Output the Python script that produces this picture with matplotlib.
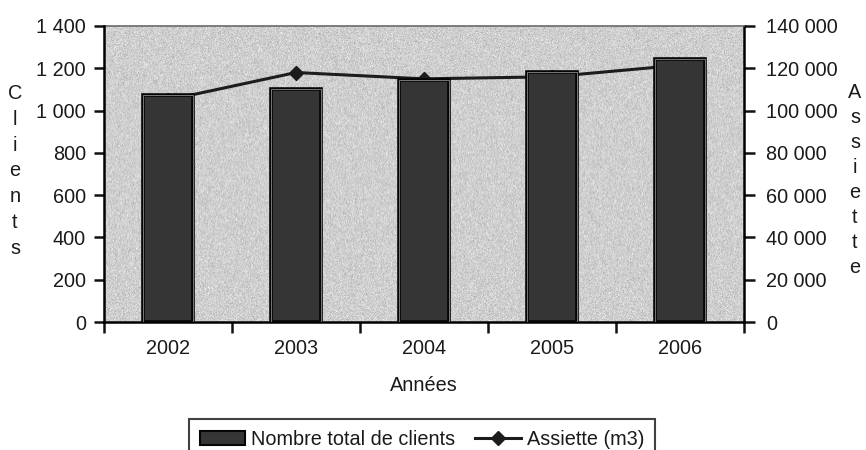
import matplotlib
matplotlib.use("Agg")
import matplotlib.pyplot as plt
import matplotlib.ticker as mticker
from matplotlib.patches import Patch
from matplotlib.lines import Line2D
import numpy as np

plt.rcParams['font.family'] = ['Liberation Sans', 'DejaVu Sans']

years = ['2002', '2003', '2004', '2005', '2006']
clients = [1074, 1102, 1145, 1184, 1242]
assiette = [105000, 118000, 115000, 116000, 121500]

left_ticks = [0, 200, 400, 600, 800, 1000, 1200, 1400]
right_ticks = [0, 20000, 40000, 60000, 80000, 100000, 120000, 140000]

TXT = '#1a1a1a'
FS = 14.3
BAR = '#353535'


def spaced(v, pos=None):
    return f"{int(v):,}".replace(",", " ")


fig = plt.figure(figsize=(8.66, 4.5), dpi=100)
fig.patch.set_facecolor('white')
ax = fig.add_axes([104 / 866, 128 / 450, 640 / 866, 296 / 450])
ax2 = ax.twinx()

# line axis sits underneath so the bars cover the line
ax.set_zorder(ax2.get_zorder() + 1)
ax.patch.set_visible(False)
ax2.patch.set_visible(True)
ax2.patch.set_facecolor('#cdcdcd')

# grainy grey backdrop of the plotting area
rng = np.random.default_rng(7)
grain = 0.81 + 0.045 * rng.standard_normal((296, 640))
ax2.imshow(grain, cmap='gray', vmin=0, vmax=1, aspect='auto',
           extent=(0, 1, 0, 1), transform=ax2.transAxes, zorder=0,
           interpolation='bilinear')

x = np.arange(len(years))
ax.bar(x, clients, width=0.39, color=BAR, edgecolor='#050505',
       linewidth=2.6, zorder=3)
ax.bar(x, clients, width=0.39, color='none', edgecolor='#8c8c8c',
       linewidth=0.6, zorder=4)
ax2.plot(x, assiette, color='#1c1c1c', lw=2.2, marker='D', markersize=7.5,
         zorder=2)

ax.set_xlim(-0.5, len(years) - 0.5)
ax.set_ylim(0, 1400)
ax2.set_ylim(0, 140000)

ax.set_yticks(left_ticks)
ax.yaxis.set_major_formatter(mticker.FuncFormatter(spaced))
ax2.set_yticks(right_ticks)
ax2.yaxis.set_major_formatter(mticker.FuncFormatter(spaced))

ax.set_xticks(x)
ax.set_xticklabels(years)
ax.set_xticks(np.arange(-0.5, len(years)), minor=True)
ax.tick_params(axis='x', which='major', length=0, pad=12, labelsize=FS,
               labelcolor=TXT)
ax.tick_params(axis='x', which='minor', direction='out', length=8,
               width=1.8, color='#111')
ax.tick_params(axis='y', direction='out', length=7, width=1.8,
               color='#111', pad=6, labelsize=FS, labelcolor=TXT)
ax2.tick_params(axis='y', direction='out', length=8, width=1.8,
                color='#111', pad=8, labelsize=FS, labelcolor=TXT)

for a in (ax, ax2):
    for s in a.spines.values():
        s.set_visible(False)
ax.spines['left'].set_visible(True)
ax.spines['left'].set_linewidth(1.8)
ax.spines['bottom'].set_visible(True)
ax.spines['bottom'].set_linewidth(1.8)
ax2.spines['right'].set_visible(True)
ax2.spines['right'].set_linewidth(1.8)
ax2.spines['top'].set_visible(True)
ax2.spines['top'].set_color('#6a6a6a')
ax2.spines['top'].set_linewidth(1.2)

ax.set_xlabel('Années', fontsize=FS, color=TXT, labelpad=13)

# stacked vertical titles
fig.text(15 / 866, 1 - 171 / 450, '\n'.join('Clients'), ha='center',
         va='center', fontsize=FS, color=TXT, linespacing=1.45)
fig.text(855 / 866, 1 - 180 / 450, '\n'.join('Assiette'), ha='center',
         va='center', fontsize=FS, color=TXT, linespacing=1.4)

handles = [Patch(facecolor=BAR, edgecolor='#050505', lw=1.5),
           Line2D([], [], color='#1c1c1c', lw=2.2, marker='D', markersize=7.5)]
leg = fig.legend(handles, ['Nombre total de clients', 'Assiette (m3)'],
                 loc='upper center', bbox_to_anchor=(422 / 866, 1 - 419 / 450),
                 ncol=2, frameon=True, fancybox=False, fontsize=FS,
                 handlelength=2.3, handleheight=0.7, handletextpad=0.3,
                 columnspacing=1.0, borderpad=0.55, borderaxespad=0)
leg.get_frame().set_edgecolor('#111')
leg.get_frame().set_linewidth(1.5)
for t in leg.get_texts():
    t.set_color(TXT)

fig.savefig('out.png', dpi=100)
